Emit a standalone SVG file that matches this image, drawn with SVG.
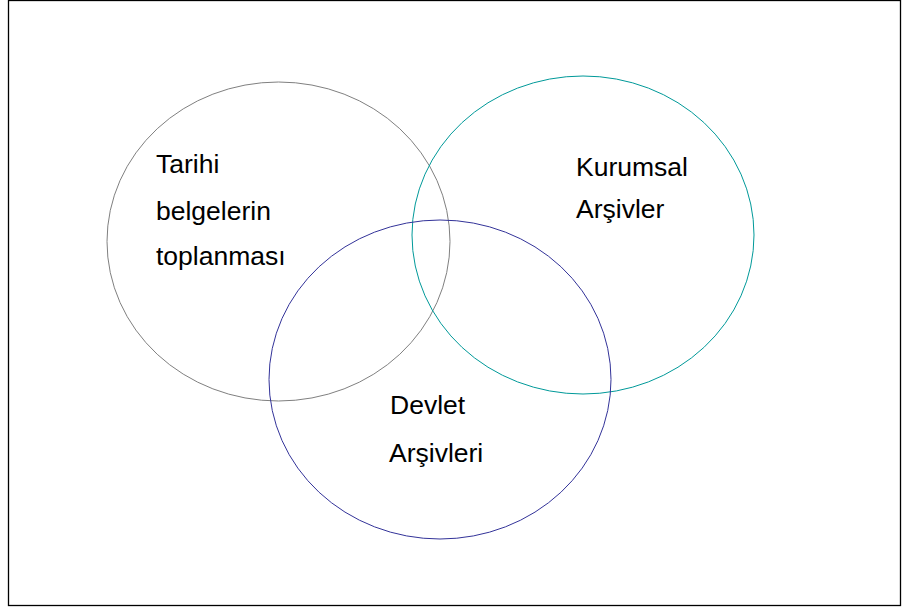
<svg xmlns="http://www.w3.org/2000/svg" width="902" height="610" viewBox="0 0 902 610">
  <style>
    .ring { fill: none; stroke-width: 1; }
    .label { font-family: "Liberation Sans", Arial, sans-serif; font-size: 26.5px; fill: #000; }
  </style>
  <rect x="0" y="0" width="902" height="610" fill="#fff"/>
  <!-- page frame -->
  <rect x="8.5" y="0.5" width="892" height="605" fill="none" stroke="#000" stroke-width="1.3"/>
  <g id="connectors"/>
  <g id="tarihi">
    <ellipse class="ring" cx="278.5" cy="241.5" rx="171.5" ry="159.5" stroke="#808080"/>
    <text class="label" x="156" y="173">Tarihi</text>
    <text class="label" x="156" y="220">belgelerin</text>
    <text class="label" x="156" y="265">toplanması</text>
  </g>
  <g id="kurumsal">
    <ellipse class="ring" cx="583" cy="235" rx="171" ry="159" stroke="#009999"/>
    <text class="label" x="576" y="176">Kurumsal</text>
    <text class="label" x="576" y="218">Arşivler</text>
  </g>
  <g id="devlet">
    <ellipse class="ring" cx="440" cy="379.5" rx="171" ry="159.5" stroke="#333399"/>
    <text class="label" x="390" y="414">Devlet</text>
    <text class="label" x="389" y="462">Arşivleri</text>
  </g>
</svg>
